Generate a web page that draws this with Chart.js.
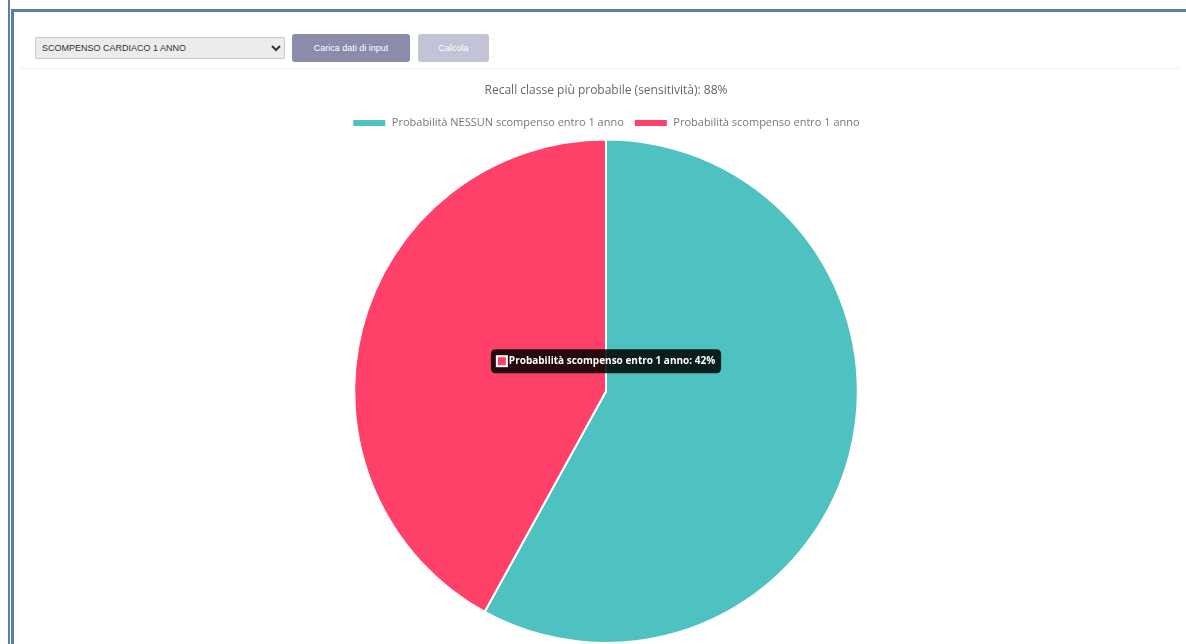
<!DOCTYPE html>
<html>
<head>
<meta charset="utf-8">
<script src="https://cdn.jsdelivr.net/npm/chart.js@4.4.0/dist/chart.umd.min.js"></script>
<style>
  html, body { margin: 0; padding: 0; background: #fff; overflow: hidden; }
  body { width: 1186px; height: 644px; position: relative; font-family: "Open Sans", "DejaVu Sans", sans-serif; }
  .frame-l1 { position: absolute; left: 8px; top: 0; width: 2px; height: 644px; background: #5b7fa6; }
  .frame-l2 { position: absolute; left: 11px; top: 9px; width: 3px; height: 635px; background: #5b7fa6; }
  .frame-t { position: absolute; left: 11px; top: 9px; width: 1175px; height: 3px; background: #5b7fa6; }
  .toolbar { position: absolute; left: 35px; top: 34px; display: flex; align-items: center; }
  .toolbar select {
    width: 250px; height: 22px; font-size: 9px; color: #333; background: #ececec;
    border: 1px solid #c8c8c8; border-radius: 2px; padding: 0 2px; margin-right: 7px;
  }
  .toolbar button {
    height: 28px; border: none; border-radius: 3px; color: #fff; font-size: 9px; padding: 0 10px;
    margin-right: 8px;
  }
  .btn-load { width: 118px; background: #8b8bab; }
  .btn-calc { width: 71px; background: #c3c3d6; }
  .sep { position: absolute; left: 20px; top: 68px; width: 1160px; height: 1px; background: #f2f2f2; }
  .chart-box { position: absolute; left: 22px; top: 74px; width: 1168px; height: 570px; }
</style>
</head>
<body>
<div class="frame-l1"></div>
<div class="frame-l2"></div>
<div class="frame-t"></div>

<div class="toolbar">
  <select>
    <option>SCOMPENSO CARDIACO 1 ANNO</option>
  </select>
  <button class="btn-load">Carica dati di input</button>
  <button class="btn-calc">Calcola</button>
</div>
<div class="sep"></div>

<div class="chart-box"><canvas id="myChart"></canvas></div>

<script>
const titolo = 'Recall classe più probabile (sensitività): 88%';
const etichette = ['Probabilità NESSUN scompenso entro 1 anno', 'Probabilità scompenso entro 1 anno'];
const probabilita = [58, 42];
const colori = ['rgb(77, 194, 192)', 'rgb(255, 64, 105)'];

// il tooltip resta sopra il centro della torta
Chart.Tooltip.positioners.centroTorta = function(elements) {
  if (!elements.length) return false;
  const el = elements[0].element;
  return { x: el.x, y: el.y - 30 };
};

const ctx = document.getElementById('myChart').getContext('2d');

const grafico = new Chart(ctx, {
  type: 'pie',
  data: {
    labels: etichette,
    datasets: [{
      data: probabilita,
      backgroundColor: colori,
      hoverBackgroundColor: colori,
      borderColor: '#fff',
      borderWidth: 2,
      hoverBorderColor: '#fff',
      hoverOffset: 0
    }]
  },
  options: {
    responsive: true,
    maintainAspectRatio: false,
    animation: false,
    events: [],
    plugins: {
      title: {
        display: true,
        text: titolo,
        color: '#666',
        font: { family: 'Open Sans', size: 12, weight: 'normal' },
        padding: { top: 9, bottom: 10 }
      },
      legend: {
        position: 'top',
        labels: {
          color: '#777',
          boxWidth: 34,
          boxHeight: 8,
          font: { family: 'Open Sans', size: 11 }
        }
      },
      tooltip: {
        position: 'centroTorta',
        backgroundColor: 'rgba(0, 0, 0, 0.85)',
        caretSize: 0,
        xAlign: 'center',
        yAlign: 'center',
        padding: 6,
        cornerRadius: 5,
        bodyFont: { family: 'Open Sans', size: 10, weight: 'bold' },
        callbacks: {
          title: function() { return ''; },
          label: function(item) {
            return item.label + ': ' + item.raw + '%';
          }
        }
      }
    }
  }
});

const attivo = [{ datasetIndex: 0, index: 1 }];
grafico.setActiveElements(attivo);
grafico.tooltip.setActiveElements(attivo, { x: 0, y: 0 });
grafico.update();
</script>
</body>
</html>
